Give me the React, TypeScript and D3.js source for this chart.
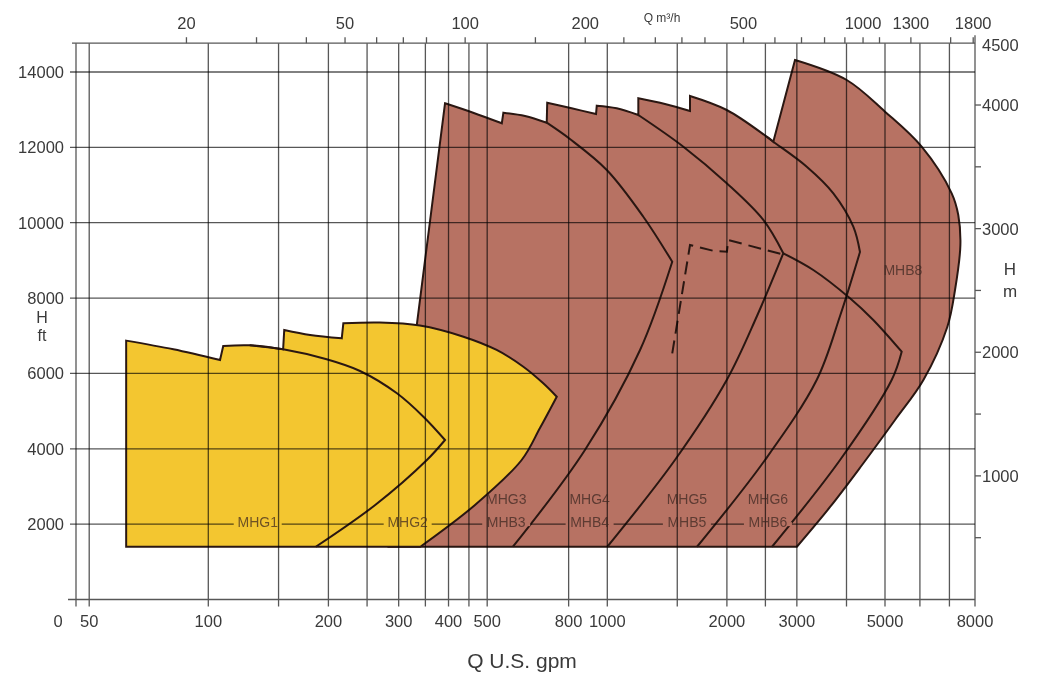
import React from 'react';
import * as d3 from 'd3';

type Pt = [number, number];

const M3H_TO_GPM = 4.40287;
const FT_PER_M = 3.28084;

// Axis data
const gpmGridValues = [50, 100, 150, 200, 250, 300, 350, 400, 450, 500, 800, 1000, 1500, 2000, 2500, 3000, 4000, 5000, 6000, 7000];
const gpmTickLabels = [50, 100, 200, 300, 400, 500, 800, 1000, 2000, 3000, 5000, 8000];
const ftTickValues = [2000, 4000, 6000, 8000, 10000, 12000, 14000];
const mTickLabels = [1000, 2000, 3000, 4000, 4500];
const mTickMarks = [500, 1000, 1500, 2000, 2500, 3000, 3500, 4000];
const m3hTickValues = [20, 30, 40, 50, 60, 70, 80, 100, 150, 200, 250, 300, 350, 400, 500, 600, 700, 800, 900, 1000, 1100, 1300, 1600, 1800];
const m3hTickLabels = [20, 50, 100, 200, 500, 1000, 1300, 1800];

// Region outlines: [gpm, ft] pieces (each piece drawn as a smooth run)
const yellowOutline: Pt[][] = [
  [[62, 1400], [62, 6870]],
  [[62, 6870], [81.6, 6640], [107, 6356]],
  [[107, 6356], [109, 6728]],
  [[109, 6728], [127, 6746], [154, 6640]],
  [[154, 6640], [155, 7152]],
  [[155, 7152], [180, 7020], [216, 6932]],
  [[216, 6932], [218, 7330]],
  [[218, 7330], [269, 7351], [339, 7272], [436, 6975], [528, 6622], [616, 6178], [691, 5738], [747, 5382]],
  [[747, 5382], [678, 4551], [610, 3702], [466, 2508], [340, 1400]],
  [[340, 1400], [62, 1400]],
];

const mhg1Line: Pt[][] = [
  [[127, 6746], [154, 6640], [198, 6375], [240, 6064], [297, 5472], [346, 4851], [392, 4233]],
  [[392, 4233], [353, 3702], [262, 2508], [186, 1400]],
];

const brownOutline: Pt[][] = [
  [[283, 1400], [392, 13169]],
  [[392, 13169], [461, 12919], [544, 12638]],
  [[544, 12638], [549, 12919]],
  [[549, 12919], [622, 12832], [705, 12654]],
  [[705, 12654], [707, 13185]],
  [[707, 13185], [814, 13036], [937, 12885]],
  [[937, 12885], [941, 13105]],
  [[941, 13105], [1056, 13036], [1197, 12858]],
  [[1197, 12858], [1197, 13301]],
  [[1197, 13301], [1397, 13150], [1615, 12964]],
  [[1615, 12964], [1615, 13363]],
  [[1615, 13363], [1998, 12991], [2519, 12283], [2617, 12150]],
  [[2617, 12150], [2968, 14318]],
  [[2968, 14318], [4005, 13787], [5000, 12946], [6055, 12017], [7083, 10780], [7331, 10204], [7412, 9408], [7207, 8214], [6922, 7232], [6110, 5825], [5268, 4764], [4377, 3570], [3636, 2455], [3000, 1400]],
  [[3000, 1400], [283, 1400]],
];

const mhg3Line: Pt[][] = [
  [[705, 12654], [806, 12221], [997, 11399], [1232, 10159], [1457, 8965]],
  [[1457, 8965], [1209, 6622], [879, 3968], [580, 1400]],
];
const mhg4Line: Pt[][] = [
  [[1197, 12858], [1554, 12017], [1998, 11046], [2470, 10072], [2773, 9188]],
  [[2773, 9188], [2381, 7524], [1998, 5825], [1480, 3702], [1000, 1400]],
];
const mhg5Line: Pt[][] = [
  [[2519, 12283], [2617, 12150], [3177, 11486], [3706, 10780], [4161, 9894], [4325, 9222]],
  [[4325, 9222], [3853, 7524], [3365, 5825], [2494, 3702], [1682, 1400]],
];
const mhg6Line: Pt[][] = [
  [[2773, 9188], [3300, 8745], [4082, 7994], [4672, 7418], [5455, 6576]],
  [[5455, 6576], [5177, 5825], [3853, 3702], [2598, 1400]],
];
const dashedLine: Pt[] = [[1457, 6534], [1615, 9408], [1856, 9249], [2000, 9231], [2016, 9541], [2736, 9169]];

const pumpNames = [['MHG1'], ['MHG2'], ['MHG3', 'MHB3'], ['MHG4', 'MHB4'], ['MHG5', 'MHB5'], ['MHG6', 'MHB6']];
const pumpLabelGpm = [133, 316, 558, 903, 1586, 2537];
const pumpLabelFt = 2000;
const mhb8Label = { name: 'MHB8', gpm: 5489, ft: 8745 };

const YELLOW = '#F3C630';
const BROWN = '#B77263';
const OUTLINE = '#2a1712';
const GRID = '#575757';
const TEXT = '#3a3a3a';
const FONT = "'Liberation Sans', Arial, Helvetica, sans-serif";

export default function App() {
  const W = 1046, H = 674;
  const xS = d3.scaleLog().domain([46.3, 100, 1000, 5000, 8000]).range([76, 208.3, 607.3, 885, 975]);
  const yS = d3.scaleLinear().domain([0, 4500 * FT_PER_M]).range([599.5, 43.2]);
  const yM = d3.scaleLinear().domain([0, 4500]).range([599.5, 43.2]);
  const left = 76, right = 975;
  const top = yS(4500 * FT_PER_M), bottom = yS(0);

  const smooth = d3.line<Pt>().x(d => xS(d[0])).y(d => yS(d[1])).curve(d3.curveCatmullRom.alpha(0.5));
  const straight = d3.line<Pt>().x(d => xS(d[0])).y(d => yS(d[1]));
  const join = (pieces: Pt[][], close: boolean) => {
    let s = '';
    pieces.forEach((p, i) => {
      const d = smooth(p) || '';
      s += i === 0 ? d : 'L' + d.slice(1);
    });
    return close ? s + 'Z' : s;
  };

  const lineY2000 = yS(pumpLabelFt);

  return (
    <svg width={W} height={H} style={{ position: 'absolute', left: 0, top: 0, background: '#fff' }} fontFamily={FONT}>
      <rect x={0} y={0} width={W} height={H} fill="#fff" />
      {/* brown region with its boundaries */}
      <path d={join(brownOutline, true)} fill={BROWN} stroke="none" />
      <g fill="none" stroke={OUTLINE} strokeWidth={2} strokeLinejoin="miter">
        <path d={join(brownOutline, true)} />
        <path d={join(mhg3Line, false)} />
        <path d={join(mhg4Line, false)} />
        <path d={join(mhg5Line, false)} />
        <path d={join(mhg6Line, false)} />
        <path d={straight(dashedLine) || ''} strokeDasharray="13 7" />
      </g>
      {/* yellow region on top */}
      <path d={join(yellowOutline, true)} fill={YELLOW} stroke={OUTLINE} strokeWidth={2} />
      <path d={join(mhg1Line, false)} fill="none" stroke={OUTLINE} strokeWidth={2} />

      {/* horizontal grid */}
      <g style={{ mixBlendMode: 'multiply' }} stroke={GRID} strokeWidth={1.3}>
        {ftTickValues.map(v => (
          <line key={'h' + v} x1={left - 6} x2={right} y1={yS(v)} y2={yS(v)} />
        ))}
      </g>
      {/* label knockouts on 2000 ft line */}
      {pumpNames.map((n, i) => (
        <rect key={'k' + i} x={xS(pumpLabelGpm[i]) - 24} y={lineY2000 - 2} width={48} height={4} fill={i < 2 ? YELLOW : BROWN} />
      ))}
      {/* vertical grid and axes */}
      <g style={{ mixBlendMode: 'multiply' }} stroke={GRID} strokeWidth={1.3}>
        {gpmGridValues.map(v => (
          <line key={'v' + v} x1={xS(v)} x2={xS(v)} y1={top} y2={bottom + 7} />
        ))}
        <line x1={left} x2={left} y1={top} y2={bottom + 7} />
        <line x1={right} x2={right} y1={top - 8} y2={bottom + 7} />
        <line x1={left - 8} x2={right} y1={bottom} y2={bottom} />
        <line x1={left - 4} x2={right} y1={top} y2={top} />
        {m3hTickValues.map(v => (
          <line key={'t' + v} x1={xS(v * M3H_TO_GPM)} x2={xS(v * M3H_TO_GPM)} y1={top - 6} y2={top} />
        ))}
        {mTickMarks.map(v => (
          <line key={'m' + v} x1={right} x2={right + 6} y1={yM(v)} y2={yM(v)} />
        ))}
      </g>

      {/* pump labels */}
      <g fontSize={14} fill="#3a2520" fillOpacity={0.72} textAnchor="middle" dominantBaseline="central">
        {pumpNames.map((names, i) =>
          names.map((nm, j) => (
            <text key={nm} x={xS(pumpLabelGpm[i])} y={lineY2000 - 2 - (names.length - 1 - j) * 23}>{nm}</text>
          ))
        )}
        <text x={xS(mhb8Label.gpm)} y={yS(mhb8Label.ft)}>{mhb8Label.name}</text>
      </g>

      {/* axis labels */}
      <g fontSize={16.5} fill={TEXT}>
        {ftTickValues.map(v => (
          <text key={'lf' + v} x={64} y={yS(v)} textAnchor="end" dominantBaseline="central">{v}</text>
        ))}
        <text x={42} y={317} textAnchor="middle" dominantBaseline="central" fontSize={16}>H</text>
        <text x={42} y={335} textAnchor="middle" dominantBaseline="central" fontSize={16}>ft</text>

        {mTickLabels.map(v => (
          <text key={'rm' + v} x={982} y={yM(v) + (v === 4500 ? 1.5 : 0)} dominantBaseline="central">{v}</text>
        ))}
        <text x={1010} y={269} textAnchor="middle" dominantBaseline="central" fontSize={17}>H</text>
        <text x={1010} y={291} textAnchor="middle" dominantBaseline="central" fontSize={17}>m</text>

        <text x={58} y={627} textAnchor="middle">0</text>
        {gpmTickLabels.map(v => (
          <text key={'b' + v} x={xS(v)} y={627} textAnchor="middle">{v}</text>
        ))}
        <text x={522} y={668} textAnchor="middle" fontSize={21}>Q U.S. gpm</text>

        {m3hTickLabels.map(v => (
          <text key={'tl' + v} x={xS(v * M3H_TO_GPM)} y={28.5} textAnchor="middle">{v}</text>
        ))}
        <text x={662} y={22} textAnchor="middle" fontSize={12}>Q m³/h</text>
      </g>
    </svg>
  );
}
